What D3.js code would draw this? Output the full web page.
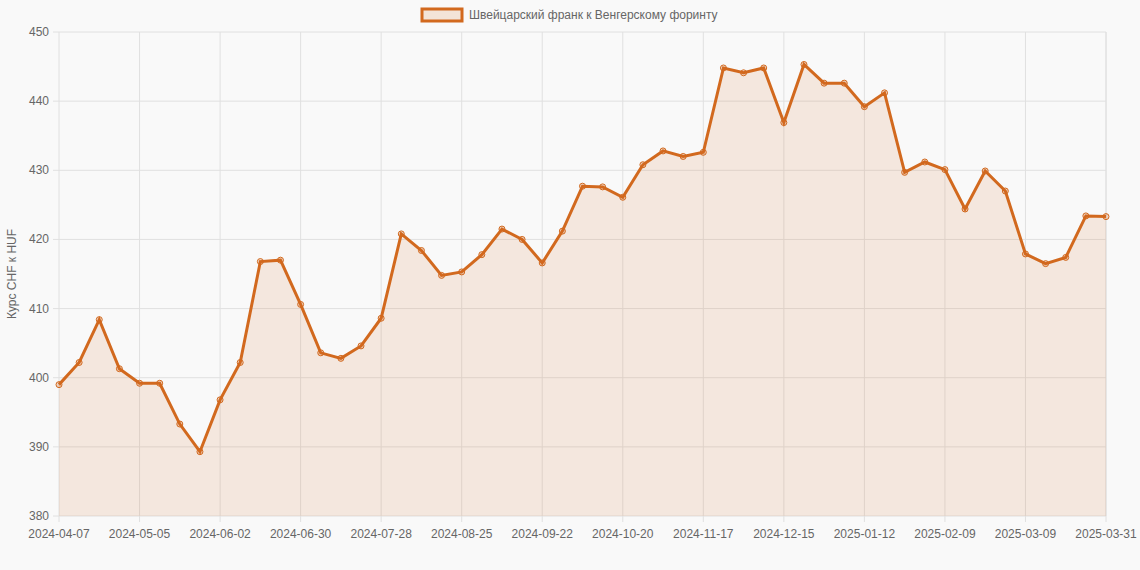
<!DOCTYPE html><html><head><meta charset="utf-8">
<script src="https://cdn.jsdelivr.net/npm/d3@7"></script>
<style>body{margin:0;background:#f9f9f9;font-family:"Helvetica Neue",Arial,"Liberation Sans",sans-serif}</style></head><body>
<svg id="c" width="1140" height="570"></svg>
<script>
const values=[399.0,402.2,408.4,401.3,399.2,399.2,393.3,389.3,396.8,402.2,416.8,417.0,410.6,403.6,402.8,404.6,408.6,420.8,418.4,414.8,415.3,417.8,421.5,420.0,416.6,421.2,427.7,427.6,426.1,430.8,432.8,432.0,432.6,444.8,444.1,444.8,436.9,445.3,442.6,442.6,439.2,441.2,429.7,431.2,430.1,424.4,429.9,427.0,417.9,416.5,417.4,423.4,423.3];
const tickLabels=["2024-04-07","2024-05-05","2024-06-02","2024-06-30","2024-07-28","2024-08-25","2024-09-22","2024-10-20","2024-11-17","2024-12-15","2025-01-12","2025-02-09","2025-03-09","2025-03-31"];
const yTicks=[380,390,400,410,420,430,440,450];
const seriesName="Швейцарский франк к Венгерскому форинту";
const color="#d2691e";
const svg=d3.select("#c");
const L=59,R=1106,T=32,B=516;
const idx=values.map((d,i)=>i);
const x=d3.scalePoint().domain(idx).range([L,R]);
const y=d3.scaleLinear().domain([380,450]).range([B,T]);
const tickIdx=tickLabels.map((d,i)=>i<12?i*4:(i==12?48:52));
const g=svg.append("g");
g.selectAll(".gx").data(tickIdx).join("line").attr("x1",d=>x(d)).attr("x2",d=>x(d)).attr("y1",T).attr("y2",B+6).attr("stroke","#e0e0e0");
g.append("line").attr("x1",R).attr("x2",R).attr("y1",T).attr("y2",B).attr("stroke","#e0e0e0");
g.selectAll(".gy").data(yTicks).join("line").attr("x1",L-6).attr("x2",R).attr("y1",d=>y(d)).attr("y2",d=>y(d)).attr("stroke","#e0e0e0");
g.selectAll(".ty").data(yTicks).join("text").attr("x",L-10).attr("y",d=>y(d)+4).attr("text-anchor","end").attr("font-size",12).attr("fill","#666").text(d=>d);
g.selectAll(".tx").data(tickIdx).join("text").attr("x",d=>x(d)).attr("y",B+22).attr("text-anchor","middle").attr("font-size",12).attr("fill","#666").text((d,i)=>tickLabels[i]);
svg.append("text").attr("transform",`translate(16,${(T+B)/2}) rotate(-90)`).attr("text-anchor","middle").attr("font-size",12).attr("fill","#666").text("Курс CHF к HUF");
svg.append("path").datum(idx).attr("d",d3.area().x(d=>x(d)).y0(B).y1(d=>y(values[d]))).attr("fill","rgba(210,105,30,0.12)");
svg.append("path").datum(idx).attr("d",d3.line().x(d=>x(d)).y(d=>y(values[d]))).attr("fill","none").attr("stroke",color).attr("stroke-width",3);
svg.selectAll(".pt").data(idx).join("circle").attr("cx",d=>x(d)).attr("cy",d=>y(values[d])).attr("r",3).attr("fill","rgba(210,105,30,0.25)").attr("stroke",color).attr("stroke-width",1);
svg.append("rect").attr("x",422).attr("y",9).attr("width",40).attr("height",12).attr("fill","rgba(210,105,30,0.15)").attr("stroke",color).attr("stroke-width",3);
svg.append("text").attr("x",469).attr("y",19).attr("font-size",12).attr("fill","#666").text(seriesName);
</script></body></html>
